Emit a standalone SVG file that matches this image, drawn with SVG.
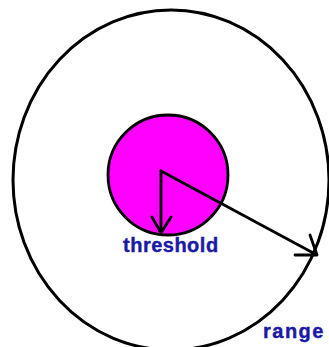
<svg xmlns="http://www.w3.org/2000/svg" width="329" height="347" viewBox="0 0 329 347">
<style>
.ln{fill:none;stroke:#000;stroke-width:2.8;stroke-linecap:round;stroke-linejoin:round}
.lbl{font-family:"Liberation Sans",Arial,sans-serif;font-weight:bold;font-size:20px;fill:#1a1aa6;stroke:#1a1aa6;stroke-width:0.4}
</style>
<rect width="329" height="347" fill="#fff"/>
<g id="range">
<ellipse cx="171" cy="180" rx="158" ry="170" fill="none" stroke="#000" stroke-width="3"/>
</g>
<g id="threshold">
<circle cx="168" cy="175" r="60" fill="#ff00ff" stroke="#000" stroke-width="2.8"/>
</g>
<g id="connectors">
<path class="ln" d="M161,171 L161,233 M152,217 L161,233 L171,217"/>
<path class="ln" d="M161,171 L317,255 M295,255 L317,255 L310,235"/>
</g>
<text class="lbl" x="123" y="252" letter-spacing="0.5">threshold</text>
<text class="lbl" x="263" y="338" letter-spacing="1.5">range</text>
</svg>
